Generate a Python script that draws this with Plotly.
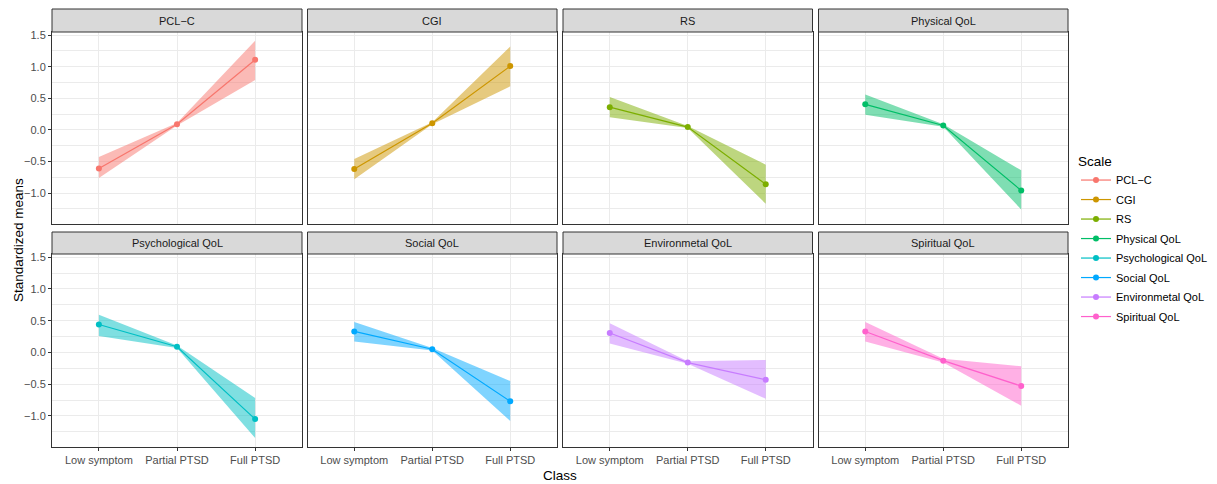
import plotly.graph_objects as go

classes = ["Low symptom", "Partial PTSD", "Full PTSD"]
scales = ["PCL\u2212C", "CGI", "RS", "Physical QoL", "Psychological QoL",
          "Social QoL", "Environmetal QoL", "Spiritual QoL"]
colors = ["#F8766D", "#CD9600", "#7CAE00", "#00BE67", "#00BFC4",
          "#00A9FF", "#C77CFF", "#FF61CC"]

means = [
    [-0.61, 0.09, 1.11],
    [-0.62, 0.105, 1.01],
    [0.36, 0.045, -0.86],
    [0.405, 0.07, -0.96],
    [0.44, 0.09, -1.05],
    [0.33, 0.05, -0.77],
    [0.305, -0.16, -0.43],
    [0.33, -0.13, -0.53],
]
lower = [
    [-0.76, 0.07, 0.79],
    [-0.78, 0.09, 0.69],
    [0.20, 0.03, -1.17],
    [0.24, 0.05, -1.26],
    [0.26, 0.07, -1.35],
    [0.17, 0.03, -1.08],
    [0.14, -0.18, -0.73],
    [0.17, -0.16, -0.84],
]
upper = [
    [-0.43, 0.11, 1.41],
    [-0.46, 0.12, 1.32],
    [0.52, 0.06, -0.55],
    [0.56, 0.09, -0.64],
    [0.595, 0.11, -0.72],
    [0.48, 0.07, -0.45],
    [0.46, -0.14, -0.12],
    [0.48, -0.10, -0.22],
]

y_tickvals = [-1.0, -0.5, 0.0, 0.5, 1.0, 1.5]
y_ticktext = ["\u22121.0", "\u22120.5", "0.0", "0.5", "1.0", "1.5"]
y_minor = [-1.25, -0.75, -0.25, 0.25, 0.75, 1.25]


def hex_rgba(h, a):
    h = h.lstrip("#")
    return "rgba(%d,%d,%d,%.2f)" % (int(h[0:2], 16), int(h[2:4], 16), int(h[4:6], 16), a)


W, H = 1217, 484
ML, MR, MT, MB = 52, 149, 9, 37
PW = W - ML - MR
PH = H - MT - MB
xpix = [(52, 302), (307.5, 557), (563, 812.5), (818.5, 1068)]
ypix_plot = [(32, 224), (254, 447)]
ypix_strip = [(9, 32), (232, 254)]


def fx(p):
    return (p - ML) / PW


def fy(p):
    return (H - MB - p) / PH


FONT = "Liberation Sans, Arial, sans-serif"
fig = go.Figure()
layout = {}
shapes = []
annotations = []

for i, name in enumerate(scales):
    r, c = divmod(i, 4)
    ax = "" if i == 0 else str(i + 1)
    xa, ya = "x" + ax, "y" + ax
    col = colors[i]
    # ribbon
    fig.add_trace(go.Scatter(x=classes, y=upper[i], xaxis=xa, yaxis=ya, mode="lines",
                             line=dict(width=0, color=col), showlegend=False,
                             hoverinfo="skip"))
    fig.add_trace(go.Scatter(x=classes, y=lower[i], xaxis=xa, yaxis=ya, mode="lines",
                             line=dict(width=0, color=col), fill="tonexty",
                             fillcolor=hex_rgba(col, 0.5), showlegend=False,
                             hoverinfo="skip"))
    fig.add_trace(go.Scatter(x=classes, y=means[i], xaxis=xa, yaxis=ya,
                             mode="lines+markers", name=name,
                             line=dict(width=1.2, color=col),
                             marker=dict(size=6, color=col),
                             legendgroup=name, showlegend=True))

    layout["xaxis" + ax] = dict(
        domain=[fx(xpix[c][0]), fx(xpix[c][1])], anchor=ya,
        type="category", categoryorder="array", categoryarray=classes,
        range=[-0.6, 2.6], showgrid=True, gridcolor="#EBEBEB", gridwidth=1.1,
        showline=True, mirror=True, linecolor="#333333", linewidth=1,
        ticks="outside" if r == 1 else "", ticklen=3, tickcolor="#333333",
        showticklabels=(r == 1), tickfont=dict(family=FONT, size=11, color="#4D4D4D"),
        zeroline=False, fixedrange=True, automargin=False,
    )
    layout["yaxis" + ax] = dict(
        domain=[fy(ypix_plot[r][1]), fy(ypix_plot[r][0])], anchor=xa,
        range=[-1.49, 1.55], tickvals=y_tickvals, ticktext=y_ticktext,
        showgrid=True, gridcolor="#EBEBEB", gridwidth=1.1,
        minor=dict(tickvals=y_minor, showgrid=True, gridcolor="#EBEBEB", gridwidth=0.6, ticks=""),
        showline=True, mirror=True, linecolor="#333333", linewidth=1,
        ticks="outside" if c == 0 else "", ticklen=3, tickcolor="#333333",
        showticklabels=(c == 0), tickfont=dict(family=FONT, size=11, color="#4D4D4D"),
        zeroline=False, fixedrange=True, automargin=False,
    )
    # strip
    shapes.append(dict(type="rect", xref="paper", yref="paper",
                       x0=fx(xpix[c][0]), x1=fx(xpix[c][1]),
                       y0=fy(ypix_strip[r][1]), y1=fy(ypix_strip[r][0]),
                       fillcolor="#D9D9D9", line=dict(color="#333333", width=1),
                       layer="above"))
    annotations.append(dict(text=name, xref="paper", yref="paper",
                            x=(fx(xpix[c][0]) + fx(xpix[c][1])) / 2,
                            y=(fy(ypix_strip[r][1]) + fy(ypix_strip[r][0])) / 2,
                            showarrow=False, xanchor="center", yanchor="middle",
                            font=dict(family=FONT, size=11, color="#1A1A1A")))

annotations.append(dict(text="Class", xref="paper", yref="paper",
                        x=(fx(52) + fx(1068)) / 2, y=fy(475), showarrow=False,
                        xanchor="center", yanchor="middle",
                        font=dict(family=FONT, size=13.5, color="#000000")))
annotations.append(dict(text="Standardized means", xref="paper", yref="paper",
                        x=fx(18), y=fy(240), showarrow=False, textangle=-90,
                        xanchor="center", yanchor="middle",
                        font=dict(family=FONT, size=13.5, color="#000000")))

fig.update_layout(
    **layout,
    width=W, height=H,
    margin=dict(l=ML, r=MR, t=MT, b=MB, autoexpand=False),
    paper_bgcolor="white", plot_bgcolor="white",
    shapes=shapes, annotations=annotations,
    showlegend=True,
    legend=dict(title=dict(text="Scale", font=dict(family=FONT, size=13.5, color="#000000")),
                font=dict(family=FONT, size=11, color="#000000"),
                x=fx(1076), y=fy(148), xanchor="left", yanchor="top",
                tracegroupgap=0.5, itemwidth=30, bgcolor="rgba(0,0,0,0)"),
    hovermode=False,
)

fig.write_html("out.html", config={"displayModeBar": False},
               post_script="document.body.style.margin='0px';document.body.style.overflow='hidden';")
